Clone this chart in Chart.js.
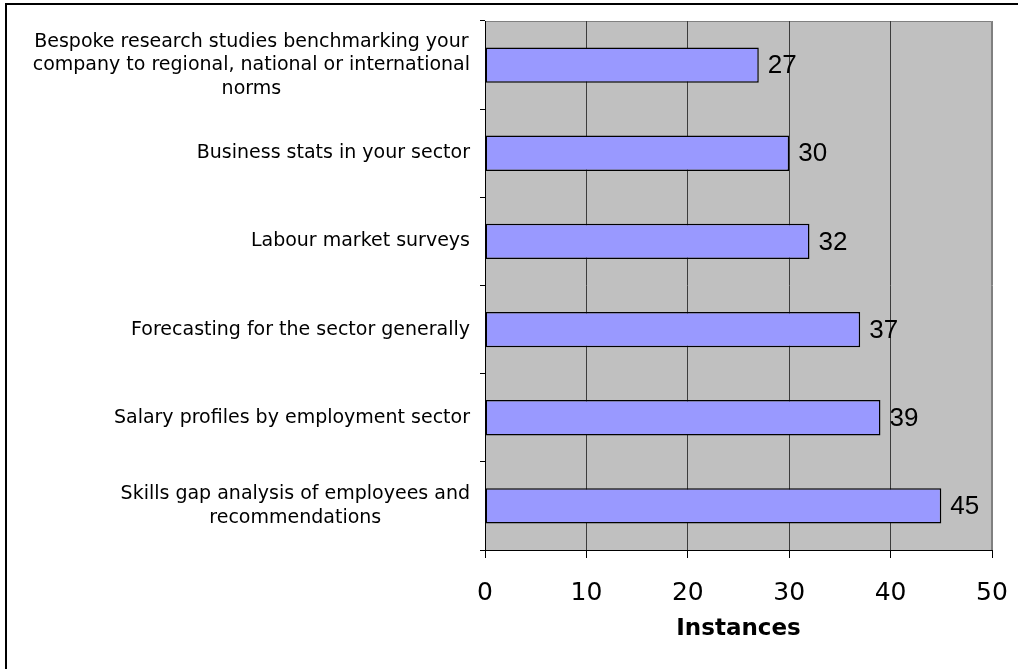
<!DOCTYPE html>
<html>
<head>
<meta charset="utf-8">
<script src="https://cdn.jsdelivr.net/npm/chart.js@4"></script>
<style>
  body { margin: 0; background: #fff; }
  canvas { display: block; }
</style>
</head>
<body>
<canvas id="myChart" width="1018" height="669"></canvas>
<script>
var categories = [
  ['Bespoke research studies benchmarking your', 'company to regional, national or international', 'norms'],
  ['Business stats in your sector'],
  ['Labour market surveys'],
  ['Forecasting for the sector generally'],
  ['Salary profiles by employment sector'],
  ['Skills gap analysis of employees and', 'recommendations']
];
var instances = [27, 30, 32, 37, 39, 45];
var xTicks = [0, 10, 20, 30, 40, 50];
var axisTitle = 'Instances';

// grey plot area plus the frame round the whole thing
var backdrop = {
  id: 'backdrop',
  beforeDraw: function(chart) {
    var ctx = chart.ctx, a = chart.chartArea;
    ctx.save();
    ctx.fillStyle = '#fff';
    ctx.fillRect(0, 0, chart.width, chart.height);
    ctx.strokeStyle = '#000';
    ctx.lineWidth = 2;
    ctx.strokeRect(6, 4, chart.width + 20, chart.height + 20);
    ctx.fillStyle = '#c0c0c0';
    ctx.fillRect(a.left, a.top, a.right - a.left, a.bottom - a.top);
    ctx.strokeStyle = '#808080';
    ctx.lineWidth = 1;
    ctx.beginPath();
    ctx.moveTo(a.left, a.top + 0.5);
    ctx.lineTo(a.right - 0.5, a.top + 0.5);
    ctx.lineTo(a.right - 0.5, a.bottom);
    ctx.stroke();
    ctx.restore();
  }
};

// value next to the end of each bar
var barValues = {
  id: 'barValues',
  afterDatasetsDraw: function(chart) {
    var ctx = chart.ctx;
    var meta = chart.getDatasetMeta(0);
    ctx.save();
    ctx.font = '26px "Liberation Sans", Arial, sans-serif';
    ctx.fillStyle = '#000';
    ctx.textAlign = 'left';
    ctx.textBaseline = 'middle';
    meta.data.forEach(function(bar, i) {
      ctx.fillText(String(instances[i]), bar.x + 9, bar.y + 1);
    });
    ctx.restore();
  }
};

// category names: each block right aligned, lines centred inside it
var categoryLabels = {
  id: 'categoryLabels',
  afterDraw: function(chart) {
    var ctx = chart.ctx, y = chart.scales.y;
    var lineH = 23.5, rightEdge = 470;
    ctx.save();
    ctx.font = '19px "DejaVu Sans", Verdana, sans-serif';
    ctx.fillStyle = '#000';
    ctx.textAlign = 'center';
    ctx.textBaseline = 'middle';
    categories.forEach(function(lines, i) {
      var widest = 0;
      lines.forEach(function(l) { widest = Math.max(widest, ctx.measureText(l).width); });
      var cx = rightEdge - widest / 2;
      var cy = y.getPixelForValue(i);
      var top = cy - (lines.length - 1) * lineH / 2;
      lines.forEach(function(l, j) {
        ctx.fillText(l, cx, top + j * lineH);
      });
    });
    ctx.restore();
  }
};

function renderChart() {
  var ctx = document.getElementById('myChart').getContext('2d');
  var myChart = new Chart(ctx, {
    type: 'bar',
    data: {
      labels: categories.map(function(c) { return c.join(' '); }),
      datasets: [{
        data: instances,
        backgroundColor: '#9999ff',
        borderColor: '#000',
        borderWidth: 1.5,
        borderSkipped: false,
        categoryPercentage: 1,
        barPercentage: 0.4
      }]
    },
    options: {
      indexAxis: 'y',
      responsive: false,
      animation: false,
      devicePixelRatio: 1,
      layout: { padding: { left: 0, right: 26, top: 21, bottom: 0 } },
      plugins: {
        legend: { display: false },
        tooltip: { enabled: false }
      },
      scales: {
        x: {
          min: xTicks[0],
          max: xTicks[xTicks.length - 1],
          afterBuildTicks: function(scale) {
            scale.ticks = xTicks.map(function(v) { return { value: v }; });
          },
          afterFit: function(scale) {
            scale.height = 119;
            scale.paddingLeft = 0;
            scale.paddingRight = 0;
          },
          grid: {
            color: function(c) {
              if (c.tick && c.tick.value === 50) return '#808080';
              return '#3c3c3c';
            },
            tickColor: '#000',
            tickLength: 8,
            lineWidth: 1
          },
          border: { color: '#000', width: 1 },
          ticks: {
            padding: 20,
            color: '#000',
            font: { family: '"DejaVu Sans", Verdana, sans-serif', size: 25 },
            maxRotation: 0
          },
          title: {
            display: true,
            text: axisTitle,
            color: '#000',
            font: { family: '"DejaVu Sans", Verdana, sans-serif', size: 23, weight: 'bold' },
            padding: { top: 0, bottom: 26 }
          }
        },
        y: {
          afterFit: function(scale) { scale.width = 485; },
          grid: {
            offset: true,
            drawOnChartArea: false,
            tickLength: 5,
            tickColor: '#000'
          },
          border: { color: '#000', width: 1 },
          ticks: { display: false }
        }
      }
    },
    plugins: [backdrop, barValues, categoryLabels]
  });
}

renderChart();
</script>
</body>
</html>
